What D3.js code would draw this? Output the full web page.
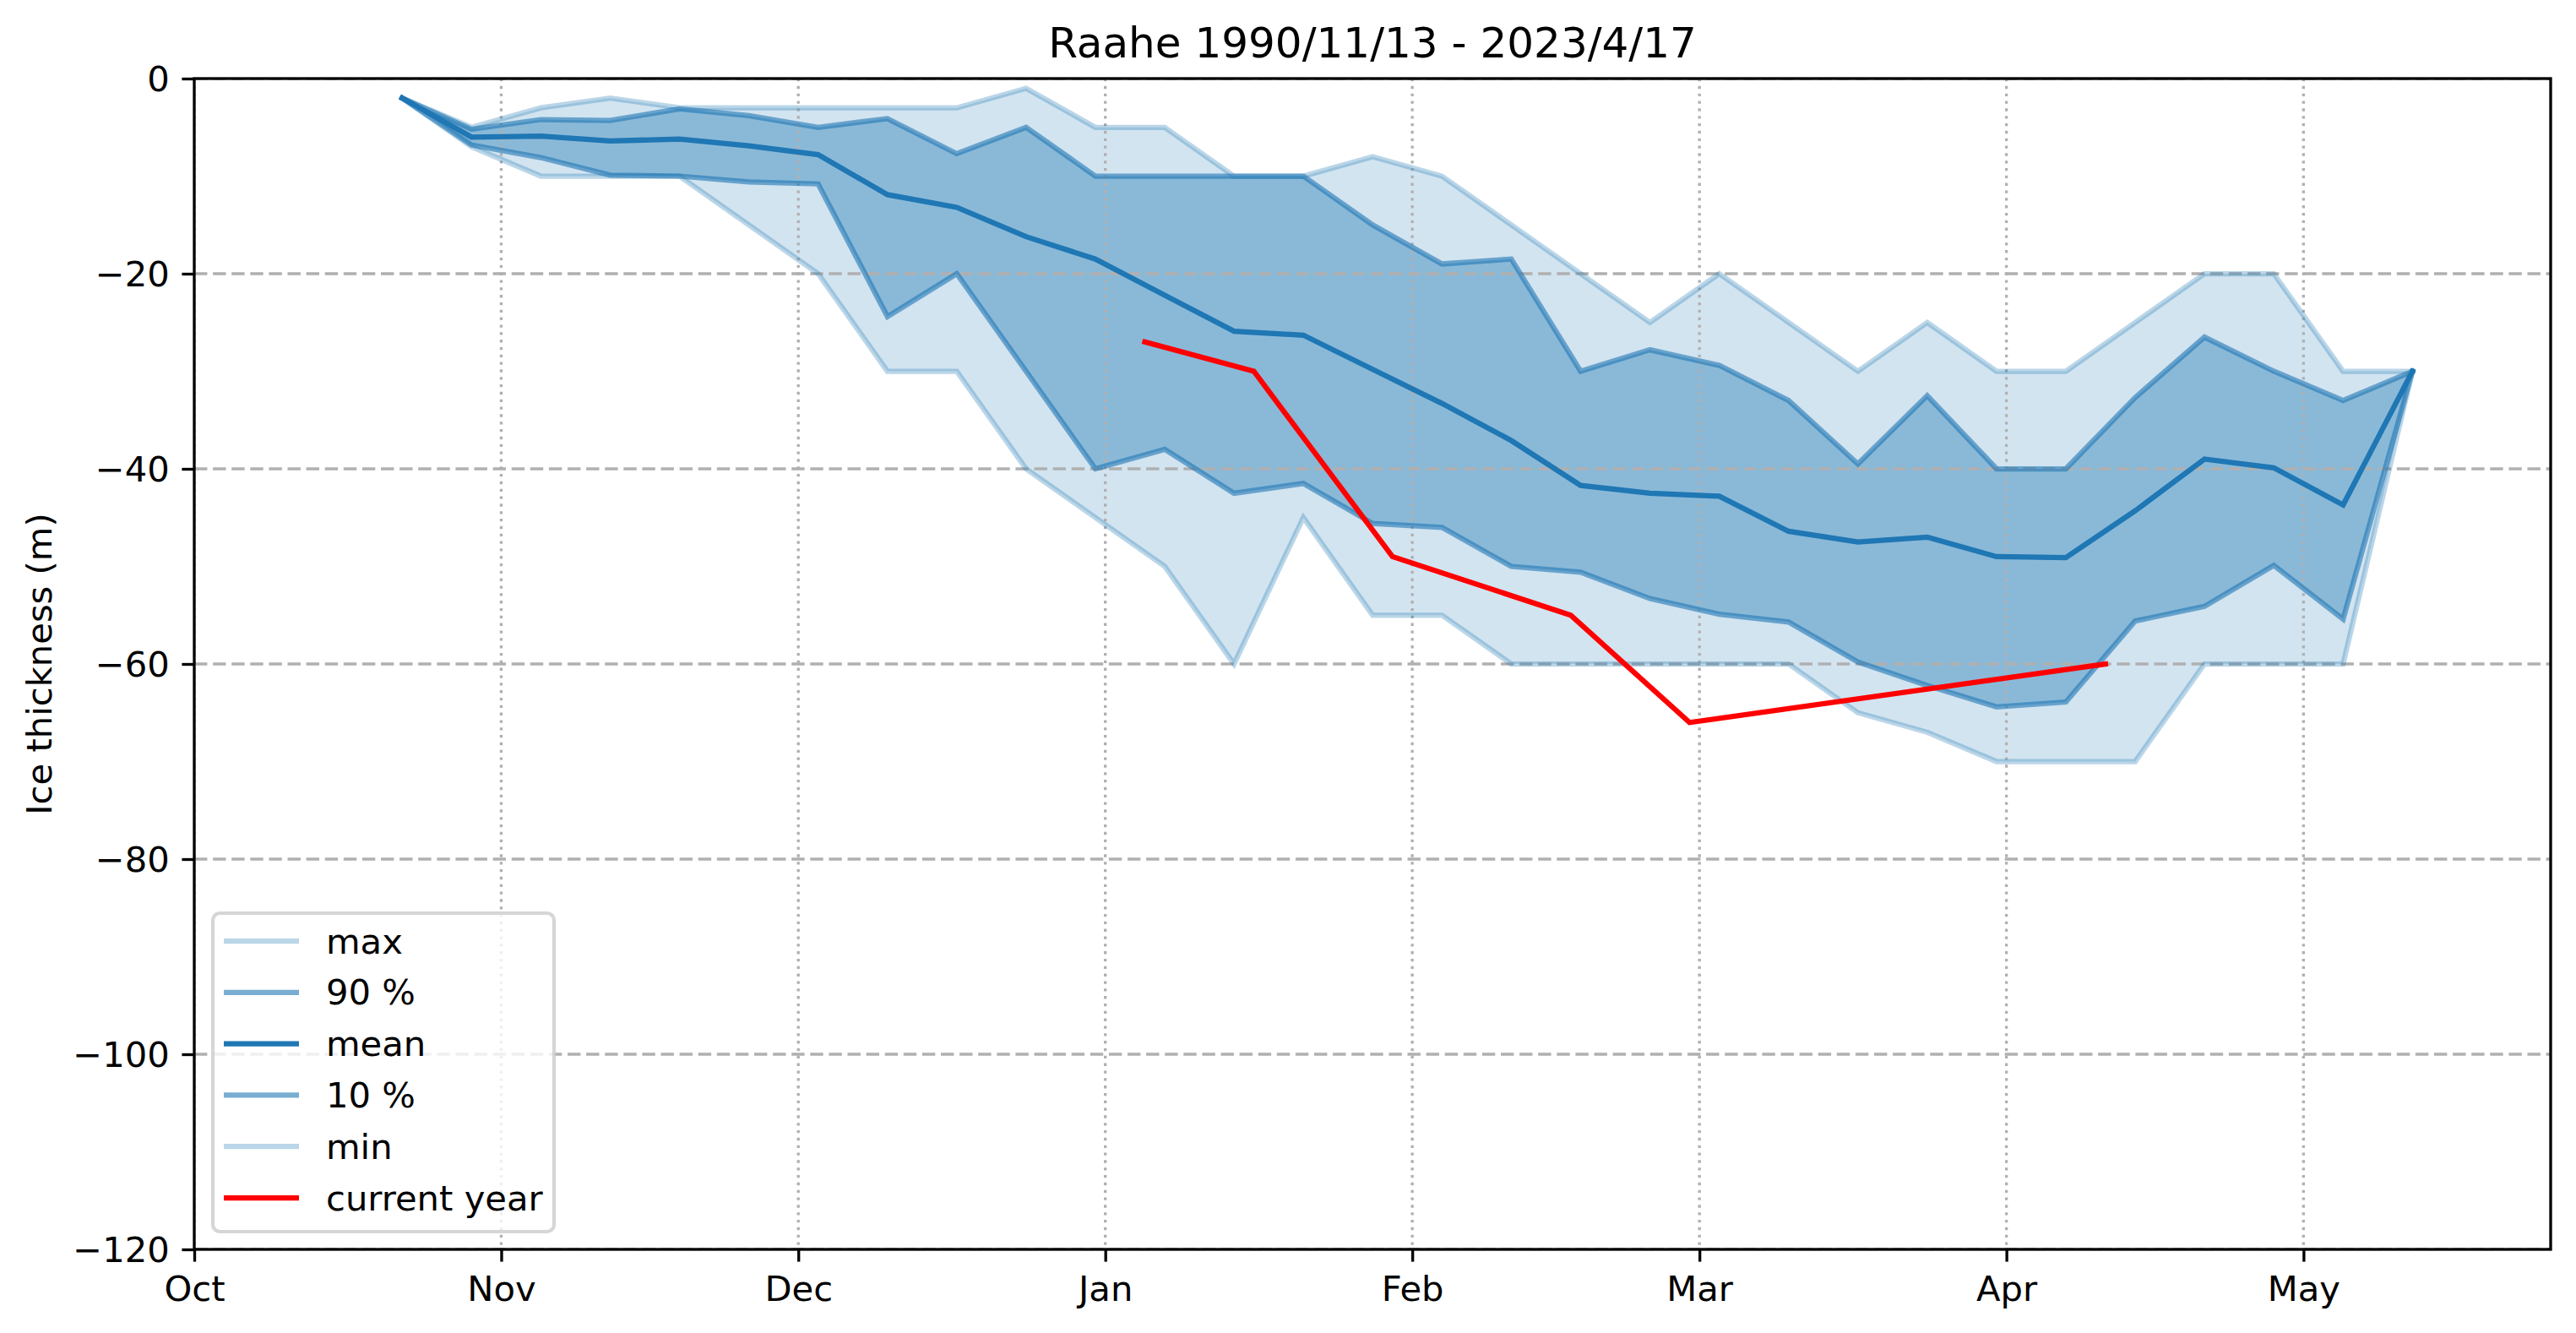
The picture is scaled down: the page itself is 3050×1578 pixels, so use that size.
<!DOCTYPE html>
<html>
<head>
<meta charset="utf-8">
<script src="https://cdn.jsdelivr.net/npm/d3@7"></script>
<style>
  html, body { margin: 0; padding: 0; background: #ffffff; }
  svg { display: block; }
  text { font-family: "DejaVu Sans", sans-serif; fill: #000; }
</style>
</head>
<body>
<svg id="chart" width="3050" height="1578"></svg>
<script>
// ---------- data ----------
// dates are placed on a leap-year season axis (Feb has 29 days)
const weekDates = ["2019-10-22","2019-10-29","2019-11-05","2019-11-12","2019-11-19","2019-11-26",
  "2019-12-03","2019-12-10","2019-12-17","2019-12-24","2019-12-31","2020-01-07","2020-01-14",
  "2020-01-21","2020-01-28","2020-02-04","2020-02-11","2020-02-18","2020-02-25","2020-03-03",
  "2020-03-10","2020-03-17","2020-03-24","2020-03-31","2020-04-07","2020-04-14","2020-04-21",
  "2020-04-28","2020-05-05","2020-05-12"];
const maxVals  = [-2,-5,-3,-2,-3,-3,-3,-3,-3,-1,-5,-5,-10,-10,-8,-10,-15,-20,-25,-20,-25,-30,-25,-30,-30,-25,-20,-20,-30,-30];
const p90Vals  = [-2,-5.2,-4.2,-4.3,-3.1,-3.8,-5,-4.1,-7.7,-5,-10,-10,-10,-10,-15,-19,-18.5,-30,-27.8,-29.4,-33,-39.5,-32.5,-40,-40,-32.7,-26.5,-30,-33,-30];
const meanVals = [-2,-6,-5.9,-6.4,-6.2,-6.9,-7.8,-11.9,-13.2,-16.2,-18.5,-22.2,-25.9,-26.3,-29.8,-33.3,-37.1,-41.7,-42.5,-42.8,-46.4,-47.5,-47,-49,-49.1,-44.3,-39,-39.9,-43.7,-30];
const p10Vals  = [-2,-6.8,-8.1,-9.9,-10,-10.6,-10.8,-24.4,-20,-30,-40,-38,-42.5,-41.5,-45.6,-46,-50,-50.6,-53.3,-54.9,-55.7,-59.8,-62.2,-64.4,-63.9,-55.6,-54.1,-49.9,-55.4,-30];
const minVals  = [-2,-7,-10,-10,-10,-15,-20,-30,-30,-40,-45,-50,-60,-45,-55,-55,-60,-60,-60,-60,-60,-65,-67,-70,-70,-70,-60,-60,-60,-30];

const currentDates = ["2020-01-05","2020-01-16","2020-01-30","2020-02-17","2020-02-29","2020-04-11"];
const currentVals  = [-27,-30,-49,-55,-66,-60];

const monthTickDates  = ["2019-10-01","2019-11-01","2019-12-01","2020-01-01","2020-02-01","2020-03-01","2020-04-01","2020-05-01"];
const monthTickLabels = ["Oct","Nov","Dec","Jan","Feb","Mar","Apr","May"];
const yTickValues = [0,-20,-40,-60,-80,-100,-120];

const titleText = "Raahe 1990/11/13 - 2023/4/17";
const yLabelText = "Ice thickness (m)";
const legendLabels = ["max","90 %","mean","10 %","min","current year"];

// ---------- setup ----------
const parse = d3.utcParse("%Y-%m-%d");
const L = 230, R = 3020, T = 93, B = 1479;
const BLUE = "#1f77b4";
const LW = 6.25;
const FS = 41.7;

const svg = d3.select("#chart");
const x = d3.scaleUtc()
  .domain([Date.UTC(2019, 9, 1), Date.UTC(2020, 4, 25, 23)])
  .range([L, R]);
const y = d3.scaleLinear().domain([-120, 0]).range([B, T]);

const wk = weekDates.map(parse);
const rows = wk.map((d, i) => ({d, max: maxVals[i], p90: p90Vals[i], mean: meanVals[i], p10: p10Vals[i], min: minVals[i]}));
const cur = currentDates.map((s, i) => ({d: parse(s), v: currentVals[i]}));

svg.append("defs").append("clipPath").attr("id", "clip")
  .append("rect").attr("x", L).attr("y", T).attr("width", R - L).attr("height", B - T);

const plot = svg.append("g").attr("clip-path", "url(#clip)");

// fills
const areaOuter = d3.area().x(r => x(r.d)).y0(r => y(r.min)).y1(r => y(r.max));
const areaInner = d3.area().x(r => x(r.d)).y0(r => y(r.p10)).y1(r => y(r.p90));
plot.append("path").datum(rows).attr("d", areaOuter).attr("fill", BLUE).attr("fill-opacity", 0.2);
plot.append("path").datum(rows).attr("d", areaInner).attr("fill", BLUE).attr("fill-opacity", 0.4);

// grid
const mTicks = monthTickDates.map(parse);
plot.append("g").selectAll("line").data(yTickValues).join("line")
  .attr("x1", L).attr("x2", R).attr("y1", d => y(d)).attr("y2", d => y(d))
  .attr("stroke", "#b0b0b0").attr("stroke-width", 3.33).attr("stroke-dasharray", "15.4,6.7");
plot.append("g").selectAll("line").data(mTicks).join("line")
  .attr("x1", d => x(d)).attr("x2", d => x(d)).attr("y1", T).attr("y2", B)
  .attr("stroke", "#b0b0b0").attr("stroke-width", 3.33).attr("stroke-dasharray", "3.33,5.5");

// lines
const series = [
  {key: "max", color: BLUE, op: 0.3},
  {key: "p90", color: BLUE, op: 0.6},
  {key: "mean", color: BLUE, op: 1},
  {key: "p10", color: BLUE, op: 0.6},
  {key: "min", color: BLUE, op: 0.3}
];
series.forEach(s => {
  const line = d3.line().x(r => x(r.d)).y(r => y(r[s.key]));
  plot.append("path").datum(rows).attr("d", line)
    .attr("fill", "none").attr("stroke", s.color).attr("stroke-opacity", s.op)
    .attr("stroke-width", LW).attr("stroke-linejoin", "miter").attr("stroke-linecap", "square");
});
plot.append("path").datum(cur)
  .attr("d", d3.line().x(p => x(p.d)).y(p => y(p.v)))
  .attr("fill", "none").attr("stroke", "#ff0000").attr("stroke-width", LW)
  .attr("stroke-linejoin", "miter").attr("stroke-linecap", "square");

// axes
const xAxis = d3.axisBottom(x).tickValues(mTicks).tickFormat((d, i) => monthTickLabels[i])
  .tickSize(14.6).tickPadding(14.6);
const gx = svg.append("g").attr("transform", `translate(0,${B})`).call(xAxis);
gx.select(".domain").remove();
gx.selectAll(".tick line").attr("stroke", "#000").attr("stroke-width", 3.33);
gx.selectAll(".tick text").attr("font-size", FS).attr("font-family", "DejaVu Sans")
  .attr("dy", null).attr("y", 61);

const yAxis = d3.axisLeft(y).tickValues(yTickValues)
  .tickFormat(d => (d < 0 ? "\u2212" + Math.abs(d) : String(d)))
  .tickSize(14.6).tickPadding(14.6);
const gy = svg.append("g").attr("transform", `translate(${L},0)`).call(yAxis);
gy.select(".domain").remove();
gy.selectAll(".tick line").attr("stroke", "#000").attr("stroke-width", 3.33);
gy.selectAll(".tick text").attr("font-size", FS).attr("font-family", "DejaVu Sans")
  .attr("dy", null).attr("dominant-baseline", "central");

// spines
svg.append("rect").attr("x", L).attr("y", T).attr("width", R - L).attr("height", B - T)
  .attr("fill", "none").attr("stroke", "#000").attr("stroke-width", 3.33);

// title and label
svg.append("text").attr("x", (L + R) / 2).attr("y", 68).attr("text-anchor", "middle")
  .attr("font-size", 50).text(titleText);
svg.append("text").attr("transform", `translate(61,${(T + B) / 2}) rotate(-90)`)
  .attr("text-anchor", "middle").attr("font-size", FS).text(yLabelText);

// legend
const legendItems = [
  {label: legendLabels[0], color: BLUE, op: 0.3},
  {label: legendLabels[1], color: BLUE, op: 0.6},
  {label: legendLabels[2], color: BLUE, op: 1},
  {label: legendLabels[3], color: BLUE, op: 0.6},
  {label: legendLabels[4], color: BLUE, op: 0.3},
  {label: legendLabels[5], color: "#ff0000", op: 1}
];
const lg = svg.append("g");
lg.append("rect").attr("x", 252).attr("y", 1081).attr("width", 404).attr("height", 377)
  .attr("rx", 8.3).attr("ry", 8.3)
  .attr("fill", "#ffffff").attr("fill-opacity", 0.8)
  .attr("stroke", "#cccccc").attr("stroke-opacity", 0.8).attr("stroke-width", 4.17);
const rowY = d3.scaleLinear().domain([0, 5]).range([1114, 1418]);
const li = lg.selectAll("g.item").data(legendItems).join("g").attr("class", "item")
  .attr("transform", (d, i) => `translate(0,${rowY(i)})`);
li.append("line").attr("x1", 265).attr("x2", 354).attr("y1", 0).attr("y2", 0)
  .attr("stroke", d => d.color).attr("stroke-opacity", d => d.op).attr("stroke-width", LW);
li.append("text").attr("x", 386).attr("y", 0).attr("dominant-baseline", "central")
  .attr("font-size", FS).text(d => d.label);
</script>
</body>
</html>
